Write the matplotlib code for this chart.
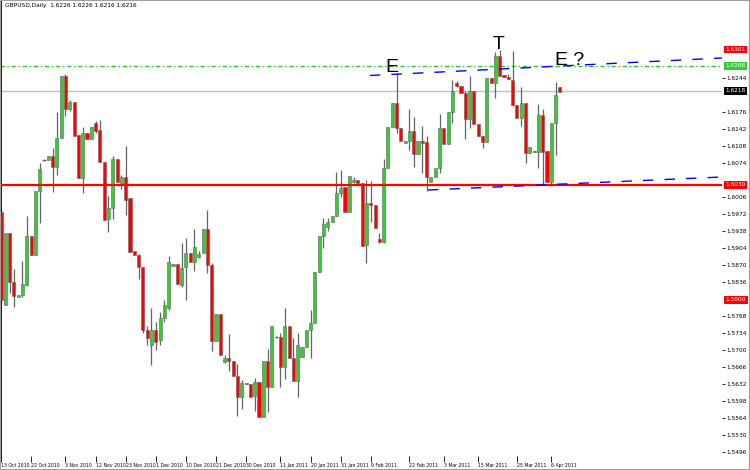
import matplotlib.pyplot as plt
from matplotlib.patches import Rectangle
import matplotlib.transforms as mtransforms

# daily candles (index 0 = leftmost bar)
opens = [1.5976, 1.5790, 1.5934, 1.5836, 1.5806, 1.5810, 1.5830, 1.5928, 1.5890, 1.6018,
         1.6080, 1.6080, 1.6088, 1.6066, 1.6124, 1.6248, 1.6182, 1.6196, 1.6130, 1.6044,
         1.6134, 1.6122, 1.6154, 1.6140, 1.6076, 1.5962, 1.5984, 1.6082, 1.6032, 1.6046,
         1.6004, 1.5898, 1.5890, 1.5866, 1.5740, 1.5710, 1.5740, 1.5720, 1.5764, 1.5784,
         1.5868, 1.5872, 1.5830, 1.5866, 1.5894, 1.5876, 1.5886, 1.5894, 1.5942, 1.5870,
         1.5718, 1.5772, 1.5676, 1.5684, 1.5678, 1.5648, 1.5606, 1.5634, 1.5632, 1.5608,
         1.5636, 1.5566, 1.5678, 1.5626, 1.5726, 1.5726, 1.5666, 1.5748, 1.5684, 1.5638,
         1.5686, 1.5706, 1.5740, 1.5754, 1.5856, 1.5928, 1.5946, 1.5956, 1.5968, 1.6014,
         1.6026, 1.5976, 1.6036, 1.6040, 1.6034, 1.5910, 1.5994, 1.5990, 1.5922, 1.5916,
         1.6064, 1.6146, 1.6194, 1.6144, 1.6114, 1.6118, 1.6138, 1.6092, 1.6118, 1.6116,
         1.6036, 1.6046, 1.6064, 1.6144, 1.6112, 1.6176, 1.6234, 1.6228, 1.6214, 1.6162,
         1.6218, 1.6152, 1.6128, 1.6116, 1.6244, 1.6234, 1.6288, 1.6250, 1.6246, 1.6240,
         1.6190, 1.6164, 1.6194, 1.6094, 1.6098, 1.6096, 1.6170, 1.6098, 1.6036, 1.6154,
         1.6226]
highs = [1.5984, 1.5934, 1.5934, 1.5862, 1.5810, 1.5878, 1.5968, 1.5928, 1.6018, 1.6074,
         1.6082, 1.6088, 1.6104, 1.6176, 1.6248, 1.6252, 1.6200, 1.6196, 1.6130, 1.6146,
         1.6134, 1.6146, 1.6158, 1.6160, 1.6076, 1.6008, 1.6088, 1.6082, 1.6050, 1.6108,
         1.6004, 1.5898, 1.5892, 1.5866, 1.5748, 1.5784, 1.5756, 1.5776, 1.5800, 1.5888,
         1.5872, 1.5872, 1.5914, 1.5924, 1.5894, 1.5942, 1.5898, 1.5942, 1.5980, 1.5874,
         1.5772, 1.5772, 1.5690, 1.5732, 1.5678, 1.5672, 1.5640, 1.5634, 1.5632, 1.5644,
         1.5636, 1.5678, 1.5702, 1.5748, 1.5728, 1.5734, 1.5784, 1.5748, 1.5724, 1.5734,
         1.5706, 1.5740, 1.5780, 1.5856, 1.5928, 1.5964, 1.5964, 1.5968, 1.6056, 1.6060,
         1.6026, 1.6048, 1.6046, 1.6040, 1.6034, 1.6040, 1.6038, 1.5990, 1.5934, 1.6082,
         1.6146, 1.6194, 1.6254, 1.6144, 1.6118, 1.6182, 1.6166, 1.6118, 1.6148, 1.6128,
         1.6046, 1.6064, 1.6172, 1.6144, 1.6176, 1.6240, 1.6238, 1.6228, 1.6218, 1.6248,
         1.6218, 1.6152, 1.6128, 1.6244, 1.6244, 1.6296, 1.6300, 1.6250, 1.6252, 1.6298,
         1.6190, 1.6226, 1.6194, 1.6106, 1.6098, 1.6192, 1.6182, 1.6098, 1.6154, 1.6236,
         1.6226]
lows = [1.5794, 1.5790, 1.5814, 1.5786, 1.5806, 1.5806, 1.5828, 1.5890, 1.5890, 1.5954,
        1.6078, 1.6080, 1.6016, 1.6050, 1.6124, 1.6168, 1.6178, 1.6128, 1.6044, 1.6014,
        1.6122, 1.6122, 1.6134, 1.6076, 1.5960, 1.5936, 1.5962, 1.6036, 1.6022, 1.5970,
        1.5896, 1.5890, 1.5842, 1.5734, 1.5710, 1.5670, 1.5700, 1.5710, 1.5756, 1.5780,
        1.5868, 1.5832, 1.5826, 1.5800, 1.5876, 1.5858, 1.5884, 1.5894, 1.5854, 1.5698,
        1.5718, 1.5690, 1.5674, 1.5658, 1.5648, 1.5568, 1.5582, 1.5632, 1.5606, 1.5578,
        1.5566, 1.5566, 1.5576, 1.5626, 1.5724, 1.5626, 1.5642, 1.5684, 1.5638, 1.5606,
        1.5686, 1.5706, 1.5684, 1.5754, 1.5856, 1.5904, 1.5938, 1.5956, 1.5968, 1.6006,
        1.5976, 1.5976, 1.6034, 1.6034, 1.5908, 1.5874, 1.5956, 1.5944, 1.5914, 1.5914,
        1.6064, 1.6146, 1.6134, 1.6118, 1.6114, 1.6100, 1.6066, 1.6092, 1.6054, 1.6018,
        1.6036, 1.6046, 1.6054, 1.6112, 1.6112, 1.6154, 1.6226, 1.6214, 1.6122, 1.6144,
        1.6152, 1.6128, 1.6104, 1.6116, 1.6234, 1.6204, 1.6248, 1.6246, 1.6242, 1.6188,
        1.6164, 1.6148, 1.6074, 1.6094, 1.6096, 1.6064, 1.6030, 1.6036, 1.6032, 1.6090,
        1.6216]
closes = [1.5800, 1.5934, 1.5836, 1.5808, 1.5810, 1.5832, 1.5928, 1.5890, 1.6018, 1.6062,
          1.6080, 1.6088, 1.6066, 1.6124, 1.6248, 1.6182, 1.6196, 1.6128, 1.6044, 1.6134,
          1.6122, 1.6146, 1.6138, 1.6076, 1.5960, 1.5984, 1.6082, 1.6036, 1.6046, 1.6000,
          1.5896, 1.5890, 1.5866, 1.5740, 1.5724, 1.5740, 1.5716, 1.5764, 1.5790, 1.5876,
          1.5872, 1.5832, 1.5864, 1.5894, 1.5876, 1.5906, 1.5892, 1.5942, 1.5870, 1.5718,
          1.5772, 1.5690, 1.5684, 1.5678, 1.5648, 1.5606, 1.5634, 1.5632, 1.5606, 1.5636,
          1.5566, 1.5678, 1.5626, 1.5748, 1.5726, 1.5666, 1.5748, 1.5684, 1.5638, 1.5710,
          1.5706, 1.5740, 1.5754, 1.5856, 1.5928, 1.5952, 1.5956, 1.5968, 1.6014, 1.6024,
          1.5976, 1.6048, 1.6040, 1.6034, 1.5908, 1.5994, 1.5990, 1.5944, 1.5916, 1.6064,
          1.6146, 1.6194, 1.6144, 1.6118, 1.6118, 1.6138, 1.6092, 1.6118, 1.6114, 1.6046,
          1.6046, 1.6064, 1.6144, 1.6112, 1.6176, 1.6218, 1.6228, 1.6214, 1.6162, 1.6218,
          1.6152, 1.6128, 1.6116, 1.6244, 1.6234, 1.6288, 1.6248, 1.6246, 1.6242, 1.6190,
          1.6164, 1.6194, 1.6094, 1.6106, 1.6096, 1.6170, 1.6096, 1.6036, 1.6154, 1.6210,
          1.6216]

# horizontal levels and right-hand price boxes
green_level = 1.6268
current_price = 1.6218
red_level = 1.6030
price_boxes = [(1.6301, 'red'), (1.6268, '#32CD32'), (1.6218, 'black'),
               (1.6030, 'red'), (1.5800, 'red')]

# trend lines (bar index, price)
upper_x = [85.8, 167.7]
upper_y = [1.6249, 1.6284]
lower_x = [99.3, 167.7]
lower_y = [1.6020, 1.6046]

# scale labels (the ones hidden under the coloured boxes are left out)
price_ticks = [1.5496, 1.5530, 1.5564, 1.5598, 1.5632, 1.5666, 1.5700, 1.5734,
               1.5768, 1.5836, 1.5870, 1.5904, 1.5938, 1.5972, 1.6006,
               1.6074, 1.6108, 1.6142, 1.6176, 1.6244]

date_pos = [0, 7, 15, 22, 29, 36, 43, 50, 57, 65, 72, 79, 86, 95, 103, 111, 120, 128]
date_labels = ['13 Oct 2010', '22 Oct 2010', '3 Nov 2010', '12 Nov 2010',
               '23 Nov 2010', '1 Dec 2010', '10 Dec 2010', '21 Dec 2010',
               '30 Dec 2010', '11 Jan 2011', '20 Jan 2011', '31 Jan 2011',
               '9 Feb 2011', '22 Feb 2011', '3 Mar 2011', '15 Mar 2011',
               '25 Mar 2011', '6 Apr 2011']

bull = '#32CD32'
bear = '#FF0000'
wick = '#646464'

fig = plt.figure(figsize=(7.5, 4.7), dpi=100)
ax = fig.add_axes([0.0, 0.0298, 0.9627, 0.9702])

n = len(opens)
xs = list(range(n))

# wicks first, bodies on top
ax.vlines(xs, lows, highs, color=wick, lw=0.9, zorder=2)
for i in xs:
    o, c = opens[i], closes[i]
    if abs(c - o) < 0.00005:
        ax.hlines(o, i - 0.38, i + 0.38, color=wick, lw=0.9, zorder=3)
        continue
    col = bull if c > o else bear
    ax.bar(i, c - o, bottom=o, width=0.72, color=col,
           edgecolor=wick, linewidth=0.4, zorder=3)

# levels
ax.axhline(green_level, color='#22CC22', lw=1.0, ls=(0, (3, 2, 1, 2)), zorder=1)
ax.axhline(current_price, color='#C0C0C0', lw=1.0, zorder=1)
ax.axhline(red_level, color='red', lw=1.6, zorder=4)

# trend lines
ax.plot(upper_x, upper_y, color='blue', lw=1.0, ls=(0, (7.5, 8)), zorder=4)
ax.plot(lower_x, lower_y, color='blue', lw=1.0, ls=(0, (7.5, 8)), zorder=4)

# pattern letters
ax.text(90.9, 1.6256, 'E', fontsize=14, family='Liberation Sans', ha='center', va='baseline', zorder=5)
ax.text(115.8, 1.6302, 'T', fontsize=14, family='Liberation Sans', ha='center', va='baseline', zorder=5)
ax.text(128.8, 1.6270, 'E ?', fontsize=14, family='Liberation Sans', ha='left', va='baseline', zorder=5)

ax.set_xlim(-0.23, 167.7)
ax.set_ylim(1.5488, 1.6400)

# price scale on the right
ax.yaxis.tick_right()
ax.set_yticks(price_ticks)
ax.set_yticklabels([f'{p:.4f}' for p in price_ticks])
ax.tick_params(axis='y', length=2.5, width=0.6, pad=1.0, labelsize=4.2, direction='out')

ax.set_xticks(date_pos)
ax.set_xticklabels(date_labels)
ax.tick_params(axis='x', length=4, width=0.6, pad=1, labelsize=3.3, direction='out')
for lab in ax.get_xticklabels():
    lab.set_horizontalalignment('left')

trans = mtransforms.blended_transform_factory(ax.transAxes, ax.transData)
for p, col in price_boxes:
    ax.text(1.005, p, f'{p:.4f}', transform=trans, fontsize=4.2, color='white',
            ha='left', va='center', clip_on=False, zorder=6,
            bbox=dict(boxstyle='square,pad=0.25', fc=col, ec='none'))

for s in ['top', 'right', 'bottom']:
    ax.spines[s].set_visible(False)
ax.spines['left'].set_color('black')
ax.spines['left'].set_linewidth(2)

fig.text(5 / 750, 1 - 6 / 470, 'GBPUSD,Daily  1.6226 1.6226 1.6216 1.6216',
         fontsize=4.2, va='center', ha='left')

fig.patches.append(Rectangle((0, 0), 1, 1, transform=fig.transFigure, fill=False,
                             ec='#A0A0A0', lw=1.5))

fig.savefig('out.png', dpi=100)
